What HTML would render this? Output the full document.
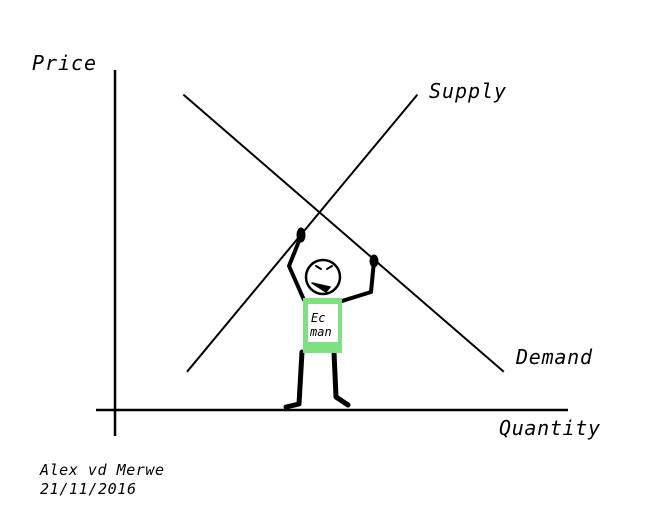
<!DOCTYPE html>
<html><head><meta charset="utf-8"><style>
body{margin:0;background:#fff}
text{font-family:"DejaVu Sans Mono","Liberation Mono",monospace;font-style:italic;fill:#000}
</style></head><body>
<svg id="chart" width="654" height="514" viewBox="0 0 654 514" xmlns="http://www.w3.org/2000/svg">
<rect width="654" height="514" fill="#fff"/>
<line x1="115" y1="70" x2="115" y2="436" stroke="#000" stroke-width="2.5"/>
<line x1="96" y1="410" x2="568" y2="410" stroke="#000" stroke-width="2.5"/>
<text x="32" y="70" font-size="20" textLength="64">Price</text>
<text x="499" y="435" font-size="20" textLength="101">Quantity</text>
<g id="curves"></g>
<text x="429" y="98" font-size="20" textLength="77">Supply</text>
<text x="516" y="364" font-size="20" textLength="76">Demand</text>
<text x="40" y="475" font-size="15" textLength="124">Alex vd Merwe</text>
<text x="40" y="494" font-size="15" textLength="96">21/11/2016</text>
<g stroke="#000" stroke-linecap="round" stroke-linejoin="round" fill="none">
<path d="M304 300 L289 266 L301 236" stroke-width="4"/>
<path d="M342 301 L371 292 L374 261" stroke-width="4"/>
<ellipse cx="301" cy="235" rx="4" ry="7" fill="#000"/>
<ellipse cx="374" cy="261" rx="4" ry="6" fill="#000"/>
<path d="M302 352 L299 404 L286 407" stroke-width="5"/>
<path d="M334 352 L336 397 L348 405" stroke-width="5"/>
<circle cx="323" cy="277" r="17" stroke-width="2.5" fill="#fff"/>
<path d="M312 283 L330 287 L326 292 Z" fill="#000" stroke-width="1.5"/>
<path d="M316 266 L321 269 M327 269 L332 266" stroke-width="2"/>
<rect x="303" y="298" width="39" height="55" fill="#7ee07e" stroke="none"/>
<rect x="308" y="304" width="30" height="38" fill="#fff" stroke="none"/>
<text x="311" y="322" font-size="12" stroke="none">Ec</text>
<text x="310" y="336" font-size="12" stroke="none">man</text>
</g>
</svg>
<script>
// line endpoints in data units (quantity 0..100, price 0..100)
const supplyQ=[20,84];
const supplyP=[12,89];
const demandQ=[19,108];
const demandP=[89,12];
function xs(q){return 115+q*3.6;}
function ys(p){return 415-p*3.6;}
const g=document.getElementById('curves');
function draw(qs,ps,name){
  const l=document.createElementNS('http://www.w3.org/2000/svg','line');
  
  
  l.setAttribute('x1',xs(qs[0]));l.setAttribute('y1',ys(ps[0]));
  l.setAttribute('x2',xs(qs[1]));l.setAttribute('y2',ys(ps[1]));
  l.setAttribute('stroke','#000');l.setAttribute('stroke-width','2');
  g.appendChild(l);
}
draw(supplyQ,supplyP,'supply-line');
draw(demandQ,demandP,'demand-line');
</script>
</body></html>
